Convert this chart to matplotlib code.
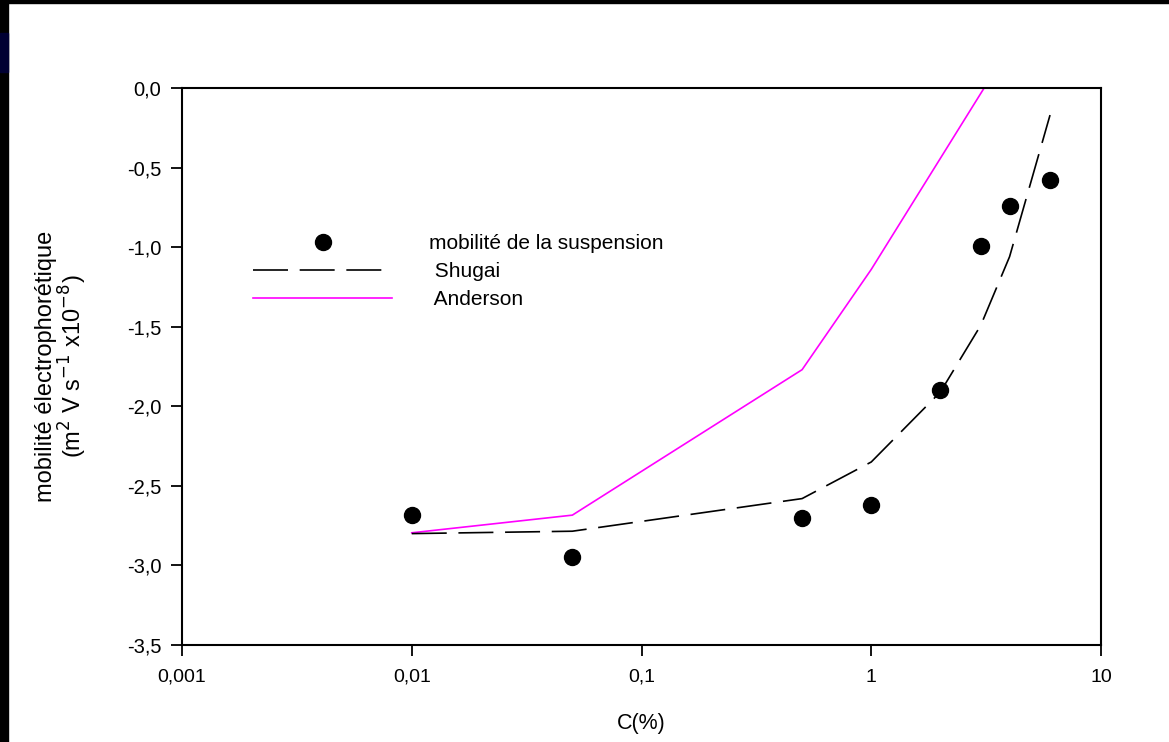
import matplotlib
matplotlib.use("Agg")
import matplotlib.pyplot as plt
from matplotlib.lines import Line2D
from matplotlib.patches import Rectangle
from matplotlib.ticker import FixedLocator, FuncFormatter

plt.rcParams['font.family'] = ['Liberation Sans', 'DejaVu Sans']

# data
susp_c = [0.01, 0.05, 0.5, 1, 2, 3, 4, 6]
susp_mob = [-2.68, -2.95, -2.70, -2.62, -1.90, -0.99, -0.74, -0.58]

shugai_c = [0.01, 0.05, 0.5, 1, 2, 3, 4, 6]
shugai_mob = [-2.80, -2.785, -2.58, -2.35, -1.91, -1.49, -1.06, -0.17]

anderson_c = [0.01, 0.05, 0.5, 1, 3.1]
anderson_mob = [-2.795, -2.684, -1.77, -1.14, 0.0]

xticks = [0.001, 0.01, 0.1, 1, 10]
xticklabels = ['0,001', '0,01', '0,1', '1', '10']
yticks = [0.0, -0.5, -1.0, -1.5, -2.0, -2.5, -3.0, -3.5]

fig = plt.figure(figsize=(11.69, 7.42), dpi=100)
W, H = 1169, 742
ax = fig.add_axes([182 / W, 1 - 645 / H, (1101 - 182) / W, (645 - 88) / H])

ax.plot(anderson_c, anderson_mob, color='#ff00ff', lw=1.2, label='Anderson', zorder=2)
ax.plot(shugai_c, shugai_mob, color='black', lw=1.2, dashes=(21, 7), label='Shugai', zorder=2)
ax.plot(susp_c, susp_mob, 'o', color='black', ms=11.5, ls='none', label='mobilité de la suspension', zorder=3)

ax.set_xscale('log')
ax.set_xlim(0.001, 10)
ax.set_ylim(-3.5, 0.0)
ax.xaxis.set_major_locator(FixedLocator(xticks))
ax.set_xticklabels(xticklabels)
ax.xaxis.set_minor_locator(FixedLocator([]))
ax.yaxis.set_major_locator(FixedLocator(yticks))
ax.yaxis.set_major_formatter(FuncFormatter(lambda v, p: ('%.1f' % v).replace('.', ',') if abs(v) > 1e-9 else '0,0'))

ax.tick_params(direction='out', length=8, width=1.3, pad=8, colors='black')
ax.tick_params(axis='y', labelsize=14.5, pad=7)
ax.tick_params(axis='x', labelsize=14, pad=9)
for s in ax.spines.values():
    s.set_linewidth(1.5)

ax.set_xlabel('C(%)', fontsize=15.5, labelpad=20)
ax.set_ylabel('mobilité électrophorétique\n(m$^2$ V s$^{-1}$ x10$^{-8}$)', fontsize=17, labelpad=27, linespacing=1.0)

handles = [
    Line2D([], [], marker='o', color='black', ms=11.5, ls='none'),
    Line2D([], [], color='black', lw=1.2, dashes=(21, 7)),
    Line2D([], [], color='#ff00ff', lw=1.2),
]
labels = ['mobilité de la suspension', ' Shugai', ' Anderson']
leg = ax.legend(handles, labels, loc='upper left', bbox_to_anchor=(0.068, 0.752),
                frameon=False, fontsize=15, handlelength=6.7, handletextpad=1.75,
                labelspacing=0.42, borderaxespad=0)

# slide border artefacts
fig.patches.append(Rectangle((0, 1 - 3 / H), 1, 3 / H, transform=fig.transFigure, color='black', zorder=0))
fig.patches.append(Rectangle((0, 0), 8 / W, 1, transform=fig.transFigure, color='black', zorder=0))
fig.patches.append(Rectangle((0, 1 - 72 / H), 8 / W, 39 / H, transform=fig.transFigure, color='#000033', zorder=1))

fig.savefig('out.png', dpi=100)
